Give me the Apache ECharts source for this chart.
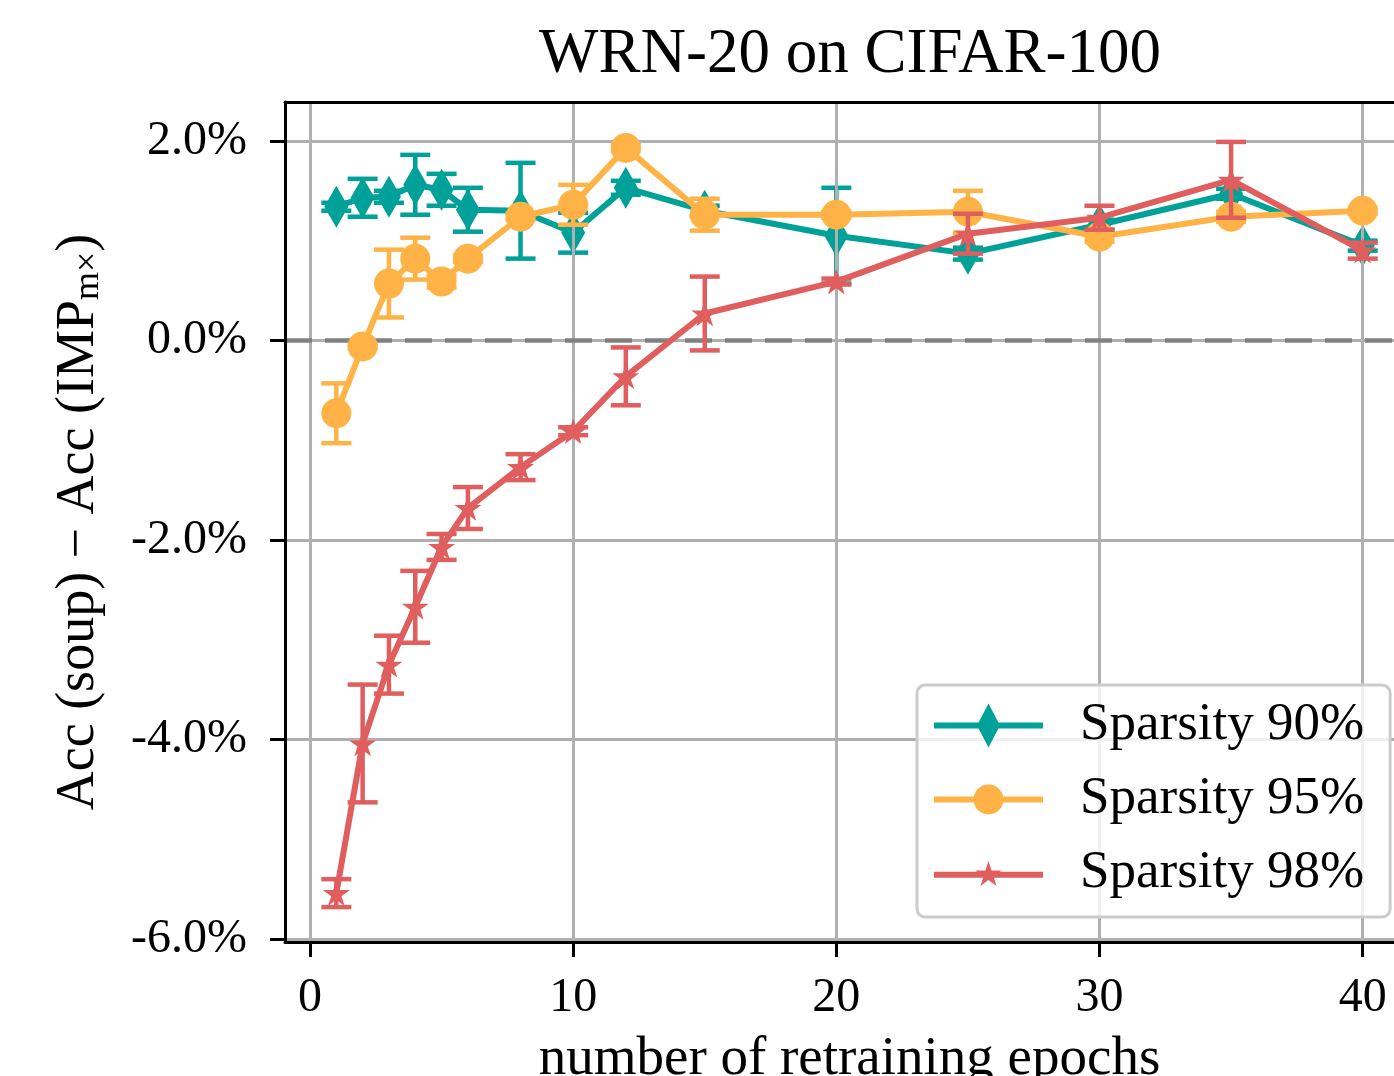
<!DOCTYPE html>
<html>
<head>
<meta charset="utf-8">
<script src="https://cdn.jsdelivr.net/npm/echarts@6/dist/echarts.min.js"></script>
<style>html,body{margin:0;padding:0;background:#fff}#c{width:1394px;height:1076px}</style>
</head>
<body>
<div id="c"></div>
<script>
// ---- data ----
const epochs = [1, 2, 3, 4, 5, 6, 8, 10, 12, 15, 20, 25, 30, 35, 40];
const s90 = [1.34, 1.43, 1.44, 1.56, 1.51, 1.31, 1.30, 1.08, 1.53, 1.30, 1.05, 0.87, 1.16, 1.47, 0.95];
const e90 = [0.04, 0.19, 0.06, 0.30, 0.16, 0.22, 0.48, 0.20, 0.07, 0.05, 0.48, 0.06, 0.05, 0.05, 0.05];
const s95 = [-0.73, -0.06, 0.57, 0.82, 0.59, 0.82, 1.24, 1.36, 1.93, 1.26, 1.26, 1.29, 1.04, 1.24, 1.30];
const e95 = [0.30, 0.02, 0.34, 0.21, 0.06, 0.03, 0.03, 0.20, 0.03, 0.16, 0.03, 0.21, 0.05, 0.05, 0.03];
const s98 = [-5.54, -4.04, -3.25, -2.67, -2.07, -1.68, -1.27, -0.91, -0.36, 0.27, 0.59, 1.07, 1.23, 1.61, 0.90];
const e98 = [0.14, 0.59, 0.29, 0.36, 0.13, 0.21, 0.13, 0.04, 0.29, 0.37, 0.03, 0.20, 0.12, 0.38, 0.08];
const seriesNames = ['Sparsity 90%', 'Sparsity 95%', 'Sparsity 98%'];
const xTicks = [0, 10, 20, 30, 40];
const yTicks = [-6, -4, -2, 0, 2];
const titleText = 'WRN-20 on CIFAR-100';
const xLabel = 'number of retraining epochs';

// ---- style ----
const colors = ['#00A199', '#FFB347', '#E05E5E'];
const FONT = 'Liberation Serif';

function starPts(cx, cy, R) {
  const r = R * 0.381966, pts = [];
  for (let k = 0; k < 10; k++) {
    const a = (-90 + 36 * k) * Math.PI / 180;
    const rr = k % 2 === 0 ? R : r;
    pts.push((cx + rr * Math.cos(a)).toFixed(2) + ',' + (cy + rr * Math.sin(a)).toFixed(2));
  }
  return 'M' + pts.join(' L') + ' Z';
}
const starSymbol = 'path://' + starPts(100, 100, 100);
const diamondIcon = 'path://M0,19 L44.57,19 L54.5,0 L64.43,19 L109,19 L109,25 L64.43,25 L54.5,44 L44.57,25 L0,25 Z';
const circleIcon = 'path://M0,19 L109,19 L109,25 L0,25 Z M39.5,22 A15,15 0 1,1 69.5,22 A15,15 0 1,1 39.5,22 Z';
const starIcon = 'path://M0,10.7 L109,10.7 L109,16.7 L0,16.7 Z ' + starPts(54.5, 13.7, 13.7);

function pairs(ys) { return epochs.map((x, i) => [x, ys[i]]); }
function triples(ys, es) { return epochs.map((x, i) => [x, ys[i], es[i]]); }

function errSeries(ys, es, color, z) {
  return {
    type: 'custom', z: z, silent: true, clip: false,
    data: triples(ys, es),
    encode: { x: 0, y: 1 },
    renderItem: function (params, api) {
      const x = api.value(0), y = api.value(1), e = api.value(2);
      const top = api.coord([x, y + e]);
      const bot = api.coord([x, y - e]);
      const hw = 15;
      const st = { stroke: color, lineWidth: 4.5, fill: null };
      return {
        type: 'group',
        children: [
          { type: 'line', shape: { x1: top[0], y1: top[1], x2: bot[0], y2: bot[1] }, style: st },
          { type: 'line', shape: { x1: top[0] - hw, y1: top[1], x2: top[0] + hw, y2: top[1] }, style: st },
          { type: 'line', shape: { x1: bot[0] - hw, y1: bot[1], x2: bot[0] + hw, y2: bot[1] }, style: st }
        ]
      };
    }
  };
}

function lineSeries(name, ys, color, symbol, size, z) {
  return {
    name: name, type: 'line', z: z,
    data: pairs(ys),
    symbol: symbol, symbolSize: size, symbolKeepAspect: true,
    showAllSymbol: true,
    lineStyle: { color: color, width: 6 },
    itemStyle: { color: color, borderWidth: 0 },
    emphasis: { disabled: true }
  };
}

const chart = echarts.init(document.getElementById('c'), null, { renderer: 'canvas' });
chart.setOption({
  animation: false,
  backgroundColor: '#ffffff',
  graphic: [{
    type: 'text', x: 850, y: 55, z: 50,
    style: { text: titleText, font: '63px "' + FONT + '"', fill: '#000', textAlign: 'center', textVerticalAlign: 'middle' }
  }],
  grid: { left: 285, right: -20, top: 102, bottom: 134, containLabel: false, outerBoundsMode: 'none' },
  legend: {
    orient: 'vertical', left: 917, top: 685, z: 20,
    padding: [14, 26, 17, 17],
    itemWidth: 109, itemHeight: 44, itemGap: 21,
    backgroundColor: 'rgba(255,255,255,0.8)',
    borderColor: '#cccccc', borderWidth: 3, borderRadius: 8,
    selectedMode: false,
    itemStyle: { borderWidth: 0 },
    textStyle: { fontFamily: FONT, fontSize: 53, color: '#000', padding: [0, 0, 0, 32] },
    data: [
      { name: seriesNames[0], icon: diamondIcon },
      { name: seriesNames[1], icon: circleIcon },
      { name: seriesNames[2], icon: starIcon }
    ]
  },
  xAxis: [{
    type: 'value', min: -0.95, max: 41.95, z: 10,
    axisLine: { show: true, onZero: false, lineStyle: { color: '#000', width: 3 } },
    axisTick: { show: true, length: 15, lineStyle: { color: '#000', width: 3 }, customValues: xTicks },
    axisLabel: { customValues: xTicks, fontFamily: FONT, fontSize: 48, color: '#000', margin: 32 },
    splitLine: { show: false },
    name: xLabel, nameLocation: 'middle', nameGap: 90,
    nameTextStyle: { fontFamily: FONT, fontSize: 55, color: '#000' }
  }, {
    type: 'value', position: 'top', min: -0.95, max: 41.95, z: 10,
    axisLine: { show: true, onZero: false, lineStyle: { color: '#000', width: 3 } },
    axisTick: { show: false }, axisLabel: { show: false }, splitLine: { show: false }
  }],
  yAxis: {
    type: 'value', min: -6.03, max: 2.39, z: 10,
    axisLine: { show: true, onZero: false, lineStyle: { color: '#000', width: 3 } },
    axisTick: { show: true, length: 15, lineStyle: { color: '#000', width: 3 }, customValues: yTicks },
    axisLabel: { customValues: yTicks, fontFamily: FONT, fontSize: 48, color: '#000', margin: 38,
      formatter: v => v.toFixed(1) + '%' },
    splitLine: { show: false },
    name: '{m|Acc (soup) − Acc (IMP}{s|m×}{m|)}', nameLocation: 'middle', nameRotate: 90, nameGap: 178,
    nameTextStyle: {
      color: '#000',
      rich: {
        m: { fontFamily: FONT, fontSize: 54, color: '#000', lineHeight: 56, verticalAlign: 'middle' },
        s: { fontFamily: FONT, fontSize: 36, color: '#000', lineHeight: 22, verticalAlign: 'bottom' }
      }
    }
  },
  series: [
    {
      type: 'line', data: [], z: 1, silent: true,
      markLine: {
        silent: true, symbol: 'none', label: { show: false },
        lineStyle: { color: '#b0b0b0', width: 3, type: 'solid' },
        emphasis: { disabled: true },
        data: yTicks.map(v => ({ yAxis: v })).concat(xTicks.map(v => ({ xAxis: v })))
      }
    },
    {
      type: 'line', data: [], z: 2, silent: true,
      markLine: {
        silent: true, symbol: 'none', label: { show: false },
        lineStyle: { color: '#808080', width: 4.5, type: [27, 13] },
        emphasis: { disabled: true },
        data: [{ yAxis: 0 }]
      }
    },
    errSeries(s90, e90, colors[0], 3),
    lineSeries(seriesNames[0], s90, colors[0], 'diamond', [24, 42], 4),
    errSeries(s95, e95, colors[1], 5),
    lineSeries(seriesNames[1], s95, colors[1], 'circle', 30, 6),
    errSeries(s98, e98, colors[2], 7),
    lineSeries(seriesNames[2], s98, colors[2], starSymbol, 27, 8)
  ]
});
</script>
</body>
</html>
